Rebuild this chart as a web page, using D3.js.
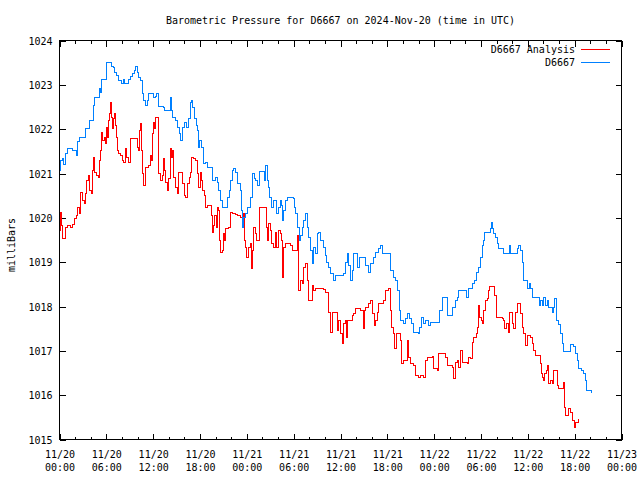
<!DOCTYPE html>
<html>
<head>
<meta charset="utf-8">
<script src="https://cdn.jsdelivr.net/npm/d3@7"></script>
<style>
  html, body { margin: 0; padding: 0; background: #fff; }
  svg { display: block; }
  text { font-family: "DejaVu Sans Mono", monospace; font-size: 10px; fill: #000; }
</style>
</head>
<body>
<svg id="chart" width="640" height="480"></svg>
<script>
// ---- DATA (hours since 2024-11-20 00:00 UTC, pressure in mbar) ----
const titleText = "Barometric Pressure for D6667 on 2024-Nov-20 (time in UTC)";
const yAxisLabel = "milliBars";
const seriesNames = ["D6667 Analysis", "D6667"];
const yTicks = [1015, 1016, 1017, 1018, 1019, 1020, 1021, 1022, 1023, 1024];
const xTickHours = [0, 6, 12, 18, 24, 30, 36, 42, 48, 54, 60, 66, 72];
const xTickDates = ["11/20","11/20","11/20","11/20","11/21","11/21","11/21","11/21","11/22","11/22","11/22","11/22","11/23"];
const xTickTimes = ["00:00","06:00","12:00","18:00","00:00","06:00","12:00","18:00","00:00","06:00","12:00","18:00","00:00"];

const blueHours = [0,0.13,0.38,0.51,0.77,1.02,1.54,1.66,2.05,2.18,2.3,2.56,3.2,3.33,3.71,3.84,4.22,4.35,4.48,4.99,5.12,5.25,5.38,5.89,6.02,6.53,6.66,6.91,7.04,7.3,7.55,7.81,7.94,8.19,8.32,8.7,8.83,9.09,9.34,9.6,9.73,9.98,10.11,10.37,10.62,10.75,11.01,11.26,11.39,11.9,12.03,12.29,12.42,12.67,13.31,13.44,14.08,14.21,14.34,14.46,14.85,15.1,15.36,15.49,15.74,16.0,16.26,16.51,16.77,16.9,17.02,17.28,17.54,17.66,17.79,17.92,18.18,18.43,18.69,18.94,19.33,19.58,19.71,19.97,20.22,20.35,20.61,20.86,21.38,21.5,21.76,21.89,22.14,22.27,22.53,22.78,23.17,23.3,23.42,23.55,23.81,24.06,24.45,24.7,24.96,25.09,25.34,25.6,26.11,26.24,26.37,26.62,26.75,26.88,27.14,27.39,27.65,27.78,28.03,28.29,28.42,28.54,28.67,28.93,29.18,29.95,30.08,30.21,30.46,30.72,30.85,31.1,31.23,31.49,31.74,31.87,32.13,32.38,32.51,32.77,33.02,33.15,33.41,33.79,34.05,34.18,34.43,34.69,35.07,35.33,36.22,36.35,36.61,36.86,36.99,37.25,37.5,37.63,37.89,38.14,38.4,38.91,39.17,39.55,39.81,40.19,40.45,40.83,41.09,41.34,42.11,42.37,42.75,43.01,43.26,43.52,43.65,44.03,44.29,44.54,44.8,45.06,45.31,45.95,46.08,46.34,46.59,46.85,47.23,47.49,48.38,48.64,49.02,49.41,49.66,50.05,50.3,50.69,50.94,51.07,51.71,52.1,52.35,52.61,52.86,53.12,53.38,53.63,53.89,54.14,54.27,54.4,55.04,55.17,55.3,55.42,55.55,55.81,56.06,56.19,56.7,56.83,57.47,57.6,57.73,58.37,58.62,58.75,59.01,59.26,59.39,59.78,59.9,60.16,60.29,60.54,61.31,61.44,61.57,61.82,61.95,62.21,62.46,62.59,62.85,63.1,63.23,63.36,63.62,63.87,64.13,64.38,64.51,65.15,65.41,65.79,66.05,66.3,66.43,66.82,67.07,67.33,67.58,68.22];
const bluePressure = [1021.07,1021.29,1021.34,1021.2,1021.45,1021.56,1021.56,1021.52,1021.52,1021.41,1021.72,1021.81,1021.81,1022.01,1022.01,1022.2,1022.2,1022.53,1022.71,1022.71,1022.92,1022.83,1023.12,1023.12,1023.5,1023.5,1023.41,1023.39,1023.28,1023.21,1023.1,1023.1,1023.03,1023.12,1023.03,1023.03,1023.12,1023.19,1023.26,1023.32,1023.41,1023.28,1023.17,1023.1,1022.8,1022.65,1022.53,1022.65,1022.8,1022.8,1022.71,1022.74,1022.8,1022.51,1022.49,1022.42,1022.42,1022.71,1022.42,1022.26,1022.2,1022.04,1021.9,1021.74,1022.04,1022.15,1022.04,1022.24,1022.6,1022.65,1022.49,1022.24,1022.08,1021.97,1021.59,1021.74,1021.59,1021.23,1021.25,1021.14,1021.14,1020.84,1020.84,1020.91,1020.8,1020.62,1020.39,1020.23,1020.23,1020.46,1020.62,1020.84,1021.07,1021.11,1021.02,1020.77,1020.62,1020.17,1019.78,1020.01,1020.1,1020.23,1020.46,1021.0,1020.89,1020.84,1020.73,1021.05,1021.05,1020.84,1021.18,1020.84,1020.68,1020.46,1020.23,1020.39,1020.39,1020.1,1020.23,1020.39,1020.28,1019.94,1020.17,1020.39,1020.46,1020.44,1020.23,1020.1,1019.78,1019.49,1019.6,1019.78,1019.94,1020.1,1019.78,1019.56,1019.26,1018.97,1019.33,1019.2,1019.65,1019.67,1019.49,1019.33,1019.15,1018.99,1018.88,1018.74,1018.59,1018.7,1018.7,1018.74,1018.99,1019.2,1018.93,1018.59,1018.81,1019.2,1019.2,1018.88,1019.1,1019.1,1018.93,1018.77,1018.97,1019.1,1019.22,1019.31,1019.38,1019.2,1019.2,1018.81,1018.65,1018.59,1018.36,1017.91,1017.68,1017.62,1017.73,1017.84,1017.73,1017.62,1017.41,1017.39,1017.53,1017.75,1017.62,1017.68,1017.57,1017.64,1017.64,1017.91,1018.2,1018.2,1017.8,1017.8,1017.98,1018.13,1018.2,1018.36,1018.36,1018.2,1018.41,1018.41,1018.52,1018.59,1018.77,1018.88,1019.1,1019.38,1019.49,1019.67,1019.67,1019.76,1019.89,1019.76,1019.65,1019.56,1019.42,1019.31,1019.31,1019.2,1019.2,1019.38,1019.2,1019.2,1019.31,1019.38,1019.26,1018.99,1018.59,1018.59,1018.41,1018.52,1018.41,1018.2,1018.2,1018.02,1018.13,1018.02,1018.2,1018.02,1018.13,1017.98,1017.98,1017.86,1017.98,1018.18,1017.68,1017.59,1017.39,1017.16,1016.98,1016.98,1017.14,1017.1,1016.94,1016.78,1016.6,1016.56,1016.49,1016.33,1016.1,1016.06];

const redHours = [0,0.13,0.26,0.38,0.64,0.77,1.02,1.41,1.66,1.92,2.18,2.3,2.56,2.69,2.94,3.2,3.33,3.46,3.71,3.84,4.1,4.22,4.35,4.48,4.74,4.99,5.12,5.25,5.38,5.5,5.76,5.89,6.02,6.14,6.27,6.4,6.53,6.66,6.78,6.91,7.04,7.17,7.3,7.42,7.55,7.81,8.06,8.19,8.45,8.58,8.83,9.09,9.73,9.98,10.11,10.24,10.37,10.5,10.62,10.75,11.01,11.39,11.65,11.78,11.9,12.03,12.16,12.29,12.54,12.67,12.93,13.18,13.31,13.44,13.57,13.82,13.95,14.21,14.34,14.46,14.59,14.85,15.1,15.23,15.49,15.74,16.0,16.13,16.38,16.64,16.77,16.9,17.15,17.41,17.66,17.79,18.05,18.18,18.3,18.56,18.69,18.94,19.33,19.46,19.58,19.71,19.84,20.1,20.22,20.35,20.48,20.61,20.86,20.99,21.12,21.25,21.63,21.89,22.14,22.53,22.78,23.17,23.42,23.55,23.68,23.81,23.94,24.19,24.45,24.58,24.7,24.83,25.09,25.22,25.47,25.6,26.37,26.5,26.62,26.75,27.01,27.14,27.39,27.65,27.78,28.03,28.29,28.42,28.54,28.67,28.93,29.57,29.82,30.21,30.46,30.59,30.85,31.1,31.23,31.49,31.74,31.87,32.13,32.38,32.51,32.77,33.79,34.05,34.3,34.43,34.69,34.94,35.33,35.58,35.71,35.97,36.22,36.35,36.61,36.74,36.86,37.25,37.5,37.63,37.89,38.53,38.78,38.91,39.04,39.17,39.55,39.81,40.06,40.32,40.45,40.7,40.83,41.47,41.73,41.98,42.11,42.37,42.5,42.75,42.88,43.14,43.52,43.65,43.78,44.03,44.42,44.54,44.67,44.93,45.31,45.57,45.95,46.21,46.59,46.85,47.1,47.74,47.87,48.38,48.51,49.15,49.41,49.66,50.05,50.3,50.43,50.69,50.94,51.07,51.33,51.58,52.22,52.35,52.61,52.86,52.99,53.38,53.5,53.63,53.76,54.01,54.14,54.27,54.53,54.78,54.91,55.04,55.55,55.68,55.94,56.7,56.83,56.96,57.22,57.47,57.6,57.86,57.98,58.11,58.37,58.62,58.88,59.01,59.26,59.39,59.65,59.9,60.29,60.54,60.67,60.93,61.31,61.57,61.7,61.82,61.95,62.08,62.34,62.46,62.59,62.85,63.1,63.23,63.49,63.74,63.87,64.38,64.51,64.64,64.77,65.02,65.15,65.41,65.66,65.92,66.05,66.43];
const redPressure = [1019.71,1020.12,1019.83,1019.53,1019.53,1019.78,1019.83,1019.78,1019.85,1019.98,1020.05,1020.23,1020.1,1020.57,1020.39,1020.32,1020.55,1020.84,1020.95,1020.62,1020.55,1021.07,1021.36,1021.02,1020.95,1020.91,1021.29,1021.52,1021.92,1021.74,1021.81,1021.68,1022.04,1021.81,1022.2,1022.35,1022.6,1022.26,1022.01,1022.24,1022.35,1022.08,1021.81,1021.52,1021.45,1021.41,1021.29,1021.25,1021.56,1021.36,1021.25,1021.79,1021.79,1021.59,1021.52,1021.97,1022.13,1021.52,1021.0,1020.73,1021.14,1021.18,1021.41,1021.29,1021.9,1022.15,1022.01,1022.26,1022.26,1021.0,1020.84,1020.95,1021.34,1021.07,1020.8,1020.62,1020.89,1021.56,1021.36,1021.52,1020.91,1020.68,1020.55,1021.02,1021.02,1020.77,1020.5,1020.46,1020.77,1020.91,1021.02,1021.36,1021.34,1021.29,1021.0,1020.68,1021.02,1020.84,1020.62,1020.5,1020.23,1020.28,1020.28,1020.05,1019.67,1019.83,1020.05,1019.78,1020.23,1020.17,1019.49,1019.22,1019.26,1019.65,1019.49,1019.76,1019.78,1020.12,1020.1,1020.08,1020.05,1020.01,1020.01,1020.1,1019.49,1019.33,1019.1,1019.33,1019.42,1018.86,1019.26,1019.78,1019.65,1019.49,1019.49,1020.23,1020.23,1019.78,1019.49,1019.87,1019.71,1019.42,1019.33,1019.67,1019.33,1019.71,1019.65,1019.49,1018.65,1019.33,1019.42,1019.38,1019.26,1019.26,1019.6,1018.36,1018.59,1018.52,1018.88,1018.97,1018.59,1018.13,1018.13,1018.47,1018.36,1018.41,1018.39,1018.32,1018.32,1017.86,1017.41,1017.86,1017.86,1017.46,1017.68,1017.39,1017.16,1017.62,1017.68,1017.3,1017.68,1017.68,1017.8,1017.84,1017.95,1017.91,1017.91,1017.5,1017.91,1017.98,1018.07,1018.13,1017.84,1017.57,1017.68,1017.86,1018.07,1018.13,1018.36,1018.36,1018.41,1017.91,1017.53,1017.39,1017.05,1017.39,1017.39,1017.23,1016.71,1016.78,1016.78,1017.23,1016.85,1016.71,1016.67,1016.44,1016.4,1016.44,1016.4,1016.78,1016.85,1016.87,1016.6,1016.56,1016.94,1016.94,1016.85,1016.67,1016.67,1016.62,1016.37,1016.74,1016.78,1016.62,1017.01,1016.74,1016.71,1016.85,1016.83,1017.19,1017.3,1017.39,1017.53,1018.02,1017.75,1017.68,1017.62,1017.91,1018.13,1018.18,1018.36,1018.45,1018.45,1018.25,1017.75,1017.73,1017.68,1017.5,1017.62,1017.41,1017.86,1017.86,1017.62,1017.5,1017.86,1018.07,1018.07,1017.84,1017.53,1017.39,1017.12,1017.35,1017.3,1017.16,1017.01,1016.89,1016.89,1016.71,1016.49,1016.4,1016.33,1016.49,1016.56,1016.67,1016.26,1016.33,1016.26,1016.56,1016.56,1016.22,1016.15,1016.15,1016.28,1015.72,1015.54,1015.54,1015.7,1015.61,1015.43,1015.27,1015.38,1015.47];

const seriesColors = ["#ff0000", "#0080ff"];

// ---- CHART ----
const t0 = Date.UTC(2024, 10, 20, 0, 0, 0);
const toDate = h => new Date(t0 + h * 3600e3);

const svg = d3.select("#chart");
svg.append("rect").attr("width", 640).attr("height", 480).attr("fill", "#fff");

const L = 59.5, R = 621.5, T = 40.5, B = 439.5;
const x = d3.scaleUtc().domain([toDate(0), toDate(72)]).range([L, R]);
const y = d3.scaleLinear().domain([1015, 1024]).range([B, T]);

const majorDates = xTickHours.map(toDate);
const minorDates = d3.range(0, 73, 2).filter(h => h % 6 !== 0).map(toDate);

function clean(g) { g.select(".domain").remove(); g.selectAll("line").attr("stroke", "#000").attr("shape-rendering", "crispEdges"); }

// bottom major with labels
const gB = svg.append("g").attr("transform", `translate(0,${B})`)
  .call(d3.axisBottom(x).tickValues(majorDates).tickSize(-6).tickPadding(12).tickFormat(() => ""));
clean(gB);
gB.selectAll(".tick text").each(function(d, i) {
  const t = d3.select(this).attr("y", 0).attr("dy", null);
  t.append("tspan").attr("x", 0).attr("y", 18).text(xTickDates[i]);
  t.append("tspan").attr("x", 0).attr("y", 31).text(xTickTimes[i]);
});
svg.append("g").attr("transform", `translate(0,${B})`)
  .call(d3.axisBottom(x).tickValues(minorDates).tickSize(-3).tickFormat(() => "")).call(clean);
// top
svg.append("g").attr("transform", `translate(0,${T})`)
  .call(d3.axisTop(x).tickValues(majorDates).tickSize(-6).tickFormat(() => "")).call(clean);
svg.append("g").attr("transform", `translate(0,${T})`)
  .call(d3.axisTop(x).tickValues(minorDates).tickSize(-3).tickFormat(() => "")).call(clean);
// left
const gL = svg.append("g").attr("transform", `translate(${L},0)`)
  .call(d3.axisLeft(y).tickValues(yTicks).tickSize(-6).tickPadding(7).tickFormat(d3.format("d")));
clean(gL);
gL.selectAll(".tick text").attr("x", -7).attr("dy", "0.35em");
// right
svg.append("g").attr("transform", `translate(${R},0)`)
  .call(d3.axisRight(y).tickValues(yTicks).tickSize(-6).tickFormat(() => "")).call(clean);

svg.selectAll(".tick text").style("font-family", "'DejaVu Sans Mono', monospace").style("font-size", "10px").attr("fill", "#000");

// border
svg.append("rect").attr("x", L).attr("y", T).attr("width", R - L).attr("height", B - T)
  .attr("fill", "none").attr("stroke", "#000").attr("shape-rendering", "crispEdges");

// lines
const line = d3.line().x(d => x(toDate(d[0]))).y(d => y(d[1])).curve(d3.curveStepAfter);
const redData = redHours.map((h, i) => [h, redPressure[i]]);
const blueData = blueHours.map((h, i) => [h, bluePressure[i]]);
svg.append("path").datum(redData).attr("d", line).attr("fill", "none")
  .attr("stroke", seriesColors[0]).attr("stroke-width", 1).attr("shape-rendering", "crispEdges");
svg.append("path").datum(blueData).attr("d", line).attr("fill", "none")
  .attr("stroke", seriesColors[1]).attr("stroke-width", 1).attr("shape-rendering", "crispEdges");

// title
svg.append("text").attr("x", (L + R) / 2).attr("y", 24).attr("text-anchor", "middle").text(titleText);
// y label
svg.append("text").attr("transform", "translate(15,245) rotate(-90)").attr("text-anchor", "middle").text(yAxisLabel);

// legend
const leg = svg.append("g");
seriesNames.forEach((name, i) => {
  const yy = 49.5 + i * 13;
  leg.append("text").attr("x", 575).attr("y", yy).attr("dy", "0.35em").attr("text-anchor", "end").text(name);
  leg.append("line").attr("x1", 581).attr("x2", 610).attr("y1", yy).attr("y2", yy)
    .attr("stroke", seriesColors[i]).attr("stroke-width", 1).attr("shape-rendering", "crispEdges");
});
</script>
</body>
</html>
